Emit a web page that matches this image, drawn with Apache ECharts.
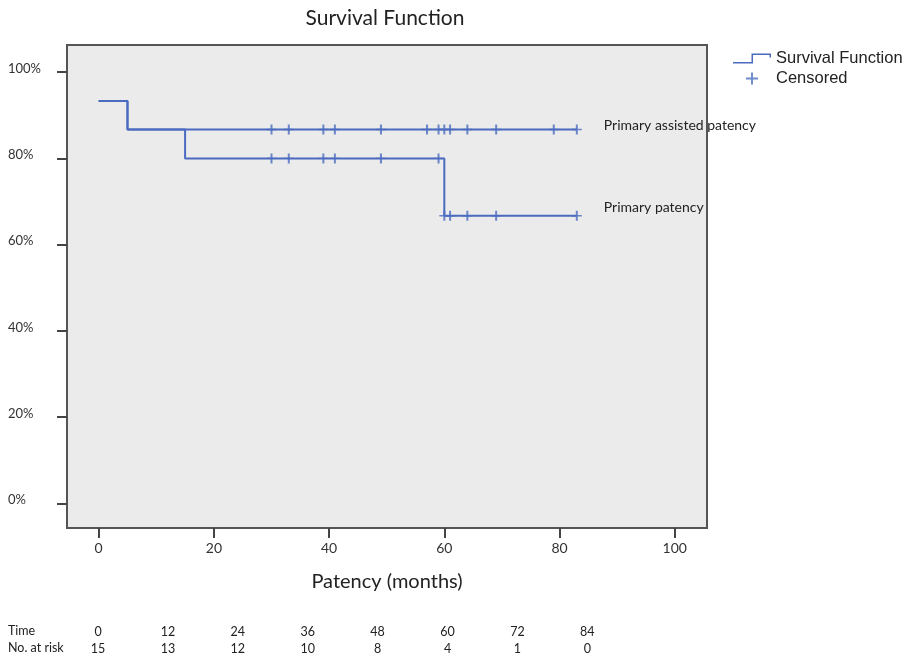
<!DOCTYPE html>
<html>
<head>
<meta charset="utf-8">
<script src="https://cdn.jsdelivr.net/npm/echarts@6/dist/echarts.min.js"></script>
<style>
html,body{margin:0;padding:0;background:#fff;}
#chart{width:911px;height:658px;}
</style>
</head>
<body>
<div id="chart"></div>
<script>
// ---- data ----
const assistedTimes = [0, 5, 83];
const assistedSurv = [93.3, 86.7, 86.7];
const primaryTimes = [0, 5, 15, 60, 83];
const primarySurv = [93.3, 86.7, 80.0, 66.7, 66.7];
const assistedCensorTimes = [30, 33, 39, 41, 49, 57, 59, 60, 61, 64, 69, 79, 83];
const primaryCensorTimes = [30, 33, 39, 41, 49, 59, 60, 61, 64, 69, 83];
const xTickValues = [0, 20, 40, 60, 80, 100];
const yTickValues = [0, 20, 40, 60, 80, 100];
const riskTimes = [0, 12, 24, 36, 48, 60, 72, 84];
const riskCounts = [15, 13, 12, 10, 8, 4, 1, 0];
const curveNames = ['Primary assisted patency', 'Primary patency'];

// ---- helpers ----
function pairs(xs, ys) { return xs.map((x, i) => [x, ys[i]]); }
function survAt(times, surv, t) {
  let v = surv[0];
  for (let i = 0; i < times.length; i++) { if (times[i] <= t) v = surv[i]; }
  return v;
}
const blue = '#4a6bbf';
const plusIcon = 'path://M4.2,0 L5.8,0 L5.8,4.2 L10,4.2 L10,5.8 L5.8,5.8 L5.8,10 L4.2,10 L4.2,5.8 L0,5.8 L0,4.2 L4.2,4.2 Z';
const stepIcon = 'path://M0,8.5 L18.5,8.5 L18.5,0 L38,0 L38,4 L36.5,4 L36.5,1.5 L20,1.5 L20,10 L0,10 Z';
const censorSymbol = 'path://M4,0 L6,0 L6,4.3 L10,4.3 L10,5.7 L6,5.7 L6,10 L4,10 L4,5.7 L0,5.7 L0,4.3 L4,4.3 Z';
const calibri = 'Lato, "Open Sans", sans-serif';

const chart = echarts.init(document.getElementById('chart'), null, {renderer: 'canvas'});

// layout of the number-at-risk table
const tableX0 = 98, tableStep = 69.9;
const tableGraphics = [
  {type: 'text', left: 8, top: 624, style: {text: 'Time', font: '12.5px ' + calibri, fill: '#222'}},
  {type: 'text', left: 8, top: 641, style: {text: 'No. at risk', font: '12.5px ' + calibri, fill: '#222'}}
];
riskTimes.forEach((t, i) => {
  tableGraphics.push({type: 'text', x: tableX0 + i * tableStep, y: 632,
    style: {text: String(t), font: '12.5px ' + calibri, fill: '#222', align: 'center', verticalAlign: 'middle'}});
  tableGraphics.push({type: 'text', x: tableX0 + i * tableStep, y: 649,
    style: {text: String(riskCounts[i]), font: '12.5px ' + calibri, fill: '#222', align: 'center', verticalAlign: 'middle'}});
});

const option = {
  animation: false,
  backgroundColor: '#ffffff',
  title: {
    text: 'Survival Function',
    left: 380, top: 3, textAlign: 'center',
    textStyle: {fontFamily: calibri, fontSize: 21, fontWeight: 'normal', color: '#222'}
  },
  legend: {
    orient: 'vertical',
    left: 728, top: 45,
    itemWidth: 38, itemHeight: 12, itemGap: 3,
    selectedMode: false,
    textStyle: {fontFamily: '"Liberation Sans", Arial, sans-serif', fontSize: 16.5, color: '#222', lineHeight: 16},
    itemStyle: {borderWidth: 0},
    data: [
      {name: 'Survival Function', icon: stepIcon},
      {name: 'Censored', icon: plusIcon}
    ]
  },
  grid: {
    left: 67, top: 45, width: 640, height: 483,
    show: true, backgroundColor: '#ebebeb', borderColor: '#555', borderWidth: 2
  },
  xAxis: {
    type: 'value', min: -5.5, max: 105.6,
    splitLine: {show: false},
    axisLine: {show: false, onZero: false},
    axisTick: {show: true, length: 10, lineStyle: {color: '#444', width: 2}, customValues: xTickValues},
    axisLabel: {customValues: xTickValues, margin: 13, fontFamily: calibri, fontSize: 14, color: '#333'},
    name: 'Patency (months)', nameLocation: 'middle', nameGap: 44,
    nameTextStyle: {fontFamily: calibri, fontSize: 20, color: '#222'}
  },
  yAxis: {
    type: 'value', min: -5.7, max: 106.3,
    splitLine: {show: false},
    axisLine: {show: false, onZero: false},
    axisTick: {show: true, length: 10, lineStyle: {color: '#444', width: 2}, customValues: yTickValues},
    axisLabel: {customValues: yTickValues, formatter: '{value}%', align: 'left', verticalAlign: 'bottom',
      lineHeight: 7, margin: 59, fontFamily: calibri, fontSize: 13, color: '#333'}
  },
  series: [
    {
      name: 'Survival Function', type: 'line', step: 'end', showSymbol: false, symbol: 'none',
      data: pairs(assistedTimes, assistedSurv),
      lineStyle: {color: blue, width: 2}, itemStyle: {color: blue},
      endLabel: {show: true, formatter: curveNames[0], distance: 27, offset: [0, -4],
        fontFamily: calibri, fontSize: 14, color: '#222'},
      z: 3
    },
    {
      name: 'Survival Function', type: 'line', step: 'end', showSymbol: false, symbol: 'none',
      data: pairs(primaryTimes, primarySurv),
      lineStyle: {color: blue, width: 2}, itemStyle: {color: blue},
      endLabel: {show: true, formatter: curveNames[1], distance: 27, offset: [0, -8],
        fontFamily: calibri, fontSize: 14, color: '#222'},
      z: 3
    },
    {
      name: 'Censored', type: 'scatter', symbol: censorSymbol, symbolSize: 10,
      data: assistedCensorTimes.map(t => [t, survAt(assistedTimes, assistedSurv, t)]),
      itemStyle: {color: blue}, z: 4
    },
    {
      name: 'Censored', type: 'scatter', symbol: censorSymbol, symbolSize: 10,
      data: primaryCensorTimes.map(t => [t, survAt(primaryTimes, primarySurv, t)]),
      itemStyle: {color: blue}, z: 4
    }
  ],
  graphic: tableGraphics
};
chart.setOption(option);
</script>
</body>
</html>
